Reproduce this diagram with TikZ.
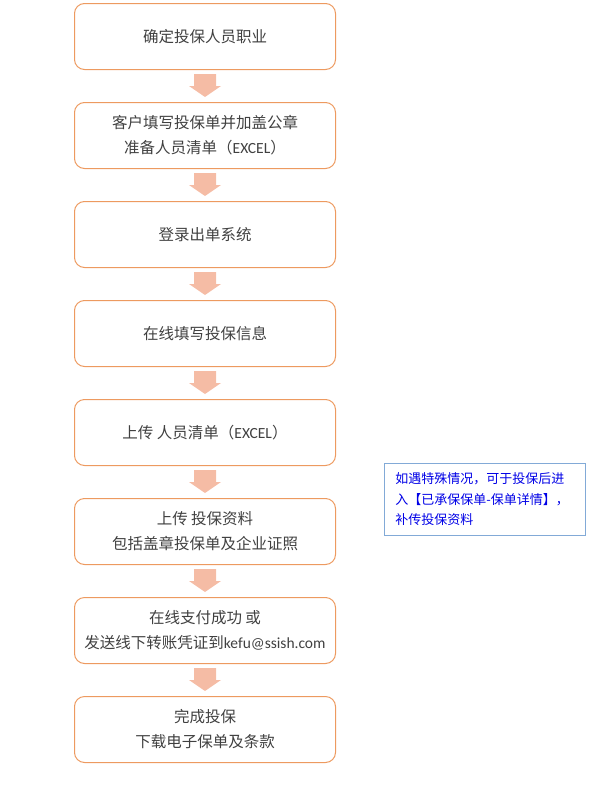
\documentclass[tikz,border=0pt]{standalone}
\usepackage{fontspec}
\setmainfont{Noto Sans CJK SC}
\newfontfamily\lat{Carlito}
\usetikzlibrary{calc}
\definecolor{boxline}{RGB}{237,154,96}
\definecolor{arrowfill}{RGB}{245,188,165}
\definecolor{txt}{RGB}{64,64,64}
\definecolor{noteline}{RGB}{130,170,215}
\definecolor{notetxt}{RGB}{0,0,230}
\begin{document}
\begin{tikzpicture}[x=1pt,y=-1pt,
 stepbox/.style={draw=boxline, line width=1pt, rounded corners=10pt, minimum width=261pt, minimum height=66pt, text=txt, font=\fontsize{15.5}{25}\selectfont, align=center, anchor=north west, inner sep=0pt},
 notebox/.style={draw=noteline, line width=0.8pt, minimum width=201pt, minimum height=72pt, text=notetxt, font=\fontsize{13}{20.5}\selectfont, align=left, anchor=north west, inner xsep=11pt, inner ysep=0pt, text width=179pt},
 flowarrow/.style={fill=arrowfill, draw=none}
]
\useasboundingbox (0,0) rectangle (593,811);
\node[stepbox] (b1) at (74,3) {确定投保人员职业};
\node[stepbox] (b2) at (74,102) {客户填写投保单并加盖公章\\准备人员清单（{\lat EXCEL}）};
\node[stepbox] (b3) at (74,201) {登录出单系统};
\node[stepbox] (b4) at (74,300) {在线填写投保信息};
\node[stepbox] (b5) at (74,399) {上传 人员清单（{\lat EXCEL}）};
\node[stepbox] (b6) at (74,498) {上传 投保资料\\包括盖章投保单及企业证照};
\node[stepbox] (b7) at (74,597) {在线支付成功 或\\发送线下转账凭证到{\lat kefu@ssish.com}};
\node[stepbox] (b8) at (74,696) {完成投保\\下载电子保单及条款};
\node[notebox] (n1) at (384,463) {如遇特殊情况，可于投保后进\\入【已承保保单-保单详情】，\\补传投保资料};
\foreach \a/\b in {b1/b2,b2/b3,b3/b4,b4/b5,b5/b6,b6/b7,b7/b8}{
 \fill[flowarrow] ($(\a.south)+(-11,4)$) -- ($(\a.south)+(11,4)$) -- ($(\a.south)+(11,16)$) -- ($(\a.south)+(16,16)$) -- ($(\b.north)+(0,-5)$) -- ($(\a.south)+(-16,16)$) -- ($(\a.south)+(-11,16)$) -- cycle;
}
\end{tikzpicture}
\end{document}
